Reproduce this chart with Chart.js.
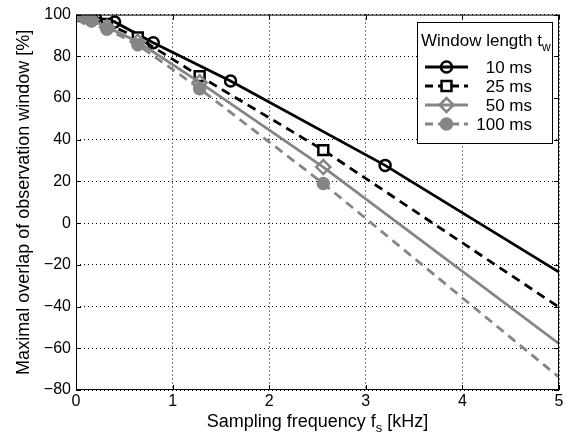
<!DOCTYPE html>
<html>
<head>
<meta charset="utf-8">
<script src="https://cdn.jsdelivr.net/npm/chart.js@4.4.0/dist/chart.umd.min.js"></script>
<style>
  html, body { margin: 0; padding: 0; background: #fff; }
</style>
</head>
<body>
<canvas id="c" width="570" height="441"></canvas>
<script>
// axis ticks
const xTicks = [0, 1, 2, 3, 4, 5];
const yTicks = [-80, -60, -40, -20, 0, 20, 40, 60, 80, 100];

// 10 ms window
const fs10 = [0, 0.1, 0.2, 0.4, 0.8, 1.6, 3.2, 5];
const ov10 = [100, 99.3, 98.5, 96.5, 86.5, 68.2, 27.7, -23.5];
const mk10 = [0.1, 0.2, 0.4, 0.8, 1.6, 3.2];

// 25 / 50 / 100 ms windows share the same frequencies
const fsB = [0, 0.08, 0.16, 0.32, 0.64, 1.28, 2.56, 5];
const ov25 = [100, 99.3, 98.3, 95.5, 89, 70.5, 35, -40.3];
const ov50 = [100, 99, 97.5, 94, 87, 67.5, 26.9, -57.8];
const ov100 = [100, 98.7, 97, 93, 85.5, 64.5, 19, -73.9];
const mkB = [0.08, 0.16, 0.32, 0.64, 1.28, 2.56];

const labels = ['10 ms', '25 ms', '50 ms', '100 ms'];

const FONT = 'Liberation Sans, Arial, Helvetica, sans-serif';
const GRAY = '#858585';

const styles = [
  { color: '#000', dash: [], marker: 'circle', fill: 'rgba(0,0,0,0)', r: 5.5 },
  { color: '#000', dash: [9, 6], marker: 'rect', fill: '#fff', r: 7 },
  { color: GRAY, dash: [], marker: 'rectRot', fill: 'rgba(0,0,0,0)', r: 7 },
  { color: GRAY, dash: [9, 6], marker: 'circle', fill: GRAY, r: 5.5 },
];

function makeSet(i, fs, ov, mk) {
  const s = styles[i];
  return {
    label: labels[i],
    data: fs.map((x, j) => ({ x: x, y: ov[j] })),
    borderColor: s.color,
    borderWidth: 2.8,
    borderDash: s.dash,
    borderCapStyle: 'butt',
    tension: 0,
    pointStyle: s.marker,
    pointRadius: fs.map(x => mk.includes(x) ? s.r : 0),
    pointHoverRadius: fs.map(x => mk.includes(x) ? s.r : 0),
    pointBorderColor: s.color,
    pointBackgroundColor: s.fill,
    pointBorderWidth: 2.5,
    order: 4 - i,
  };
}

function drawMarker(ctx, s, x, y) {
  ctx.save();
  ctx.setLineDash([]);
  ctx.lineWidth = 2.5;
  ctx.strokeStyle = s.color;
  ctx.fillStyle = s.fill;
  ctx.beginPath();
  if (s.marker === 'circle') {
    ctx.arc(x, y, s.r, 0, Math.PI * 2);
  } else if (s.marker === 'rect') {
    const h = s.r * Math.SQRT1_2;
    ctx.rect(x - h, y - h, 2 * h, 2 * h);
  } else {
    ctx.moveTo(x, y - s.r); ctx.lineTo(x + s.r, y);
    ctx.lineTo(x, y + s.r); ctx.lineTo(x - s.r, y);
    ctx.closePath();
  }
  ctx.fill();
  ctx.stroke();
  ctx.restore();
}

// text with one subscript part
function subText(ctx, pre, sub, post, x, y, size, align) {
  ctx.font = size + 'px ' + FONT;
  const w1 = ctx.measureText(pre).width;
  const w3 = ctx.measureText(post).width;
  ctx.font = Math.round(size * 0.7) + 'px ' + FONT;
  const w2 = ctx.measureText(sub).width;
  const total = w1 + w2 + w3;
  let x0 = align === 'center' ? x - total / 2 : x;
  ctx.textAlign = 'left';
  ctx.textBaseline = 'alphabetic';
  ctx.font = size + 'px ' + FONT;
  ctx.fillText(pre, x0, y);
  ctx.font = Math.round(size * 0.7) + 'px ' + FONT;
  ctx.fillText(sub, x0 + w1, y + size * 0.3);
  ctx.font = size + 'px ' + FONT;
  ctx.fillText(post, x0 + w1 + w2, y);
}

const decor = {
  id: 'decor',
  afterDraw(chart) {
    const { ctx, chartArea: a, scales } = chart;
    ctx.save();
    ctx.fillStyle = '#000';

    // legend
    const lx = 417, ly = 22, lw = 135, lh = 121;
    ctx.fillStyle = '#fff';
    ctx.fillRect(lx, ly, lw, lh);
    ctx.strokeStyle = '#000';
    ctx.lineWidth = 1;
    ctx.strokeRect(lx + 0.5, ly + 0.5, lw, lh);
    ctx.fillStyle = '#000';
    subText(ctx, 'Window length t', 'w', '', lx + 4, 46, 17, 'left');
    const rows = [67, 86, 105, 124];
    styles.forEach((s, i) => {
      const y = rows[i];
      ctx.save();
      ctx.strokeStyle = s.color;
      ctx.lineWidth = 2.8;
      ctx.setLineDash(s.dash.length ? [8, 5] : []);
      ctx.beginPath();
      ctx.moveTo(425, y); ctx.lineTo(468, y);
      ctx.stroke();
      ctx.restore();
      drawMarker(ctx, s, 446.5, y);
      ctx.fillStyle = '#000';
      ctx.font = '17px ' + FONT;
      ctx.textAlign = 'right';
      ctx.textBaseline = 'middle';
      ctx.fillText(labels[i], 532, y + 1);
    });

    // axes box and inward ticks
    ctx.strokeStyle = '#000';
    ctx.lineWidth = 1;
    ctx.setLineDash([]);
    ctx.strokeRect(a.left + 0.5, a.top + 0.5, a.right - a.left - 1, a.bottom - a.top - 1);
    ctx.beginPath();
    xTicks.forEach(v => {
      const px = Math.round(scales.x.getPixelForValue(v)) + 0.5;
      ctx.moveTo(px, a.bottom); ctx.lineTo(px, a.bottom - 5);
      ctx.moveTo(px, a.top); ctx.lineTo(px, a.top + 5);
    });
    yTicks.forEach(v => {
      const py = Math.round(scales.y.getPixelForValue(v)) + 0.5;
      ctx.moveTo(a.left, py); ctx.lineTo(a.left + 5, py);
      ctx.moveTo(a.right, py); ctx.lineTo(a.right - 5, py);
    });
    ctx.stroke();

    // axis titles
    ctx.fillStyle = '#000';
    subText(ctx, 'Sampling frequency f', 's', ' [kHz]', (a.left + a.right) / 2, 427, 18, 'center');
    ctx.save();
    ctx.translate(29, (a.top + a.bottom) / 2);
    ctx.rotate(-Math.PI / 2);
    ctx.font = '18px ' + FONT;
    ctx.textAlign = 'center';
    ctx.textBaseline = 'alphabetic';
    ctx.fillText('Maximal overlap of observation window [%]', 0, 0);
    ctx.restore();

    ctx.restore();
  }
};

new Chart(document.getElementById('c'), {
  type: 'line',
  data: {
    datasets: [
      makeSet(0, fs10, ov10, mk10),
      makeSet(1, fsB, ov25, mkB),
      makeSet(2, fsB, ov50, mkB),
      makeSet(3, fsB, ov100, mkB),
    ]
  },
  options: {
    responsive: false,
    animation: false,
    devicePixelRatio: 1,
    layout: { padding: { top: 14, right: 11, left: 0, bottom: 0 } },
    plugins: { legend: { display: false }, tooltip: { enabled: false } },
    scales: {
      x: {
        type: 'linear', min: 0, max: 5,
        afterFit: s => { s.height = 51; },
        afterBuildTicks: s => { s.ticks = xTicks.map(v => ({ value: v })); },
        ticks: { color: '#000', padding: 2, font: { family: FONT, size: 16 }, maxRotation: 0 },
        grid: { color: '#000', lineWidth: 1, drawTicks: false },
        border: { display: false, dash: [1, 3] },
      },
      y: {
        type: 'linear', min: -80, max: 100,
        afterFit: s => { s.width = 76; },
        afterBuildTicks: s => { s.ticks = yTicks.map(v => ({ value: v })); },
        ticks: {
          color: '#000', padding: 5, font: { family: FONT, size: 16 },
          callback: v => String(v).replace('-', '\u2212'),
        },
        grid: { color: '#000', lineWidth: 1, drawTicks: false },
        border: { display: false, dash: [1, 3] },
      },
    },
  },
  plugins: [decor],
});
</script>
</body>
</html>
